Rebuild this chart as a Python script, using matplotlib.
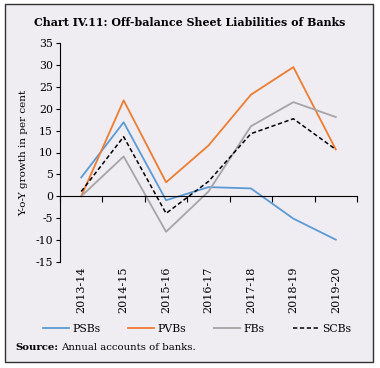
import matplotlib
matplotlib.use("Agg")
import matplotlib.pyplot as plt
from matplotlib.patches import Rectangle
from matplotlib.lines import Line2D

years = ["2013-14", "2014-15", "2015-16", "2016-17", "2017-18", "2018-19", "2019-20"]
psbs = [4.3, 16.9, -0.9, 2.1, 1.8, -5.1, -9.9]
pvbs = [0.0, 21.9, 3.2, 11.6, 23.2, 29.5, 10.7]
fbs = [0.0, 9.1, -8.1, 1.1, 16.0, 21.5, 18.1]
scbs = [1.1, 13.6, -3.9, 3.4, 14.3, 17.7, 10.7]
yticks = [-15, -10, -5, 0, 5, 10, 15, 20, 25, 30, 35]

plt.rcParams['font.family'] = ['DejaVu Serif']
bg = '#efecf2'
fig = plt.figure(figsize=(3.8, 3.68), dpi=100)
fig.patch.set_facecolor('white')
fig.patches.append(Rectangle((5/380, 1-362/368), 368/380, 358/368, transform=fig.transFigure,
                             facecolor=bg, edgecolor='#333333', linewidth=1.0, zorder=-10))

dash = (0, (2.8, 1.7))
ax = fig.add_axes([60/380, 1-262/368, 297/380, 219/368])
ax.set_facecolor('none')
x = list(range(len(years)))
ax.plot(x, psbs, color='#5b9bd5', lw=1.3, label='PSBs')
ax.plot(x, pvbs, color='#ed7d31', lw=1.3, label='PVBs')
ax.plot(x, fbs, color='#a5a5a5', lw=1.3, label='FBs')
ax.plot(x, scbs, color='black', lw=1.1, ls=dash, label='SCBs')

ax.set_xlim(-0.5, len(years) - 0.5)
ax.set_ylim(-15, 35)
ax.set_yticks(yticks)
ax.set_yticklabels([str(v) for v in yticks], fontsize=7.8)
ax.tick_params(axis='y', length=3, width=0.8, pad=2)
for s in ['top', 'right']:
    ax.spines[s].set_visible(False)
ax.spines['left'].set_linewidth(0.8)
ax.spines['bottom'].set_position(('data', 0))
ax.spines['bottom'].set_linewidth(0.8)
ax.set_xticks([i - 0.5 for i in range(len(years) + 1)])
ax.set_xticklabels([])
ax.tick_params(axis='x', length=4, width=0.8, direction='out')
for i, yr in enumerate(years):
    ax.text(i, -0.02, yr, transform=ax.get_xaxis_transform(), rotation=90,
            ha='center', va='top', fontsize=8)
ax.set_ylabel('Y-o-Y growth in per cent', fontsize=7.5, labelpad=2)
ax.yaxis.set_label_coords(-32/297, 0.5)

fig.text(190/380, 1-22/368, 'Chart IV.11: Off-balance Sheet Liabilities of Banks',
         ha='center', va='center', fontsize=7.9, fontweight='bold')

handles = [Line2D([], [], color='#5b9bd5', lw=1.3),
           Line2D([], [], color='#ed7d31', lw=1.3),
           Line2D([], [], color='#a5a5a5', lw=1.3),
           Line2D([], [], color='black', lw=1.1, ls=dash)]
fig.legend(handles, ['PSBs', 'PVBs', 'FBs', 'SCBs'], loc='center', ncol=4,
           bbox_to_anchor=(197/380, 1-329/368), frameon=False, fontsize=7.8,
           handlelength=2.4, handletextpad=0.3, columnspacing=2.6)

t1 = fig.text(15/380, 1-347/368, 'Source:', ha='left', va='center', fontsize=7.3, fontweight='bold')
fig.canvas.draw()
bb = t1.get_window_extent()
fig.text((bb.x1 + 3)/380, 1-347/368, 'Annual accounts of banks.', ha='left', va='center', fontsize=7.3)

fig.savefig('out.png', dpi=100)
